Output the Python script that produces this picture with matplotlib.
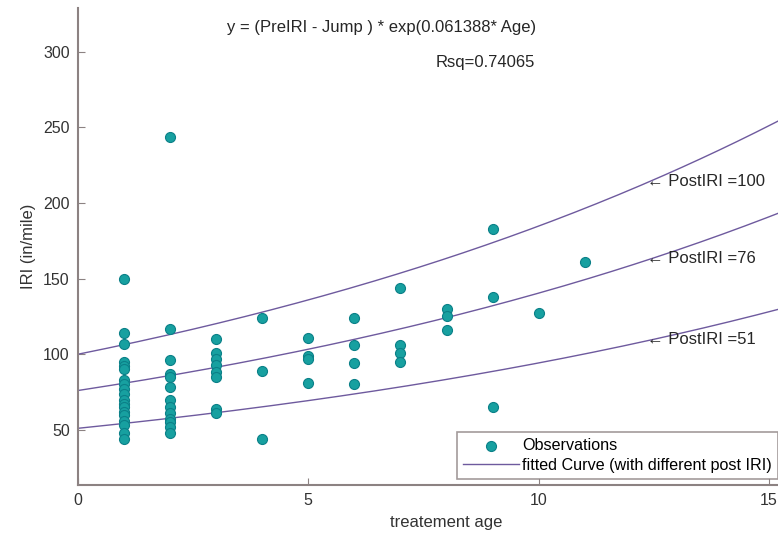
import numpy as np
import matplotlib
matplotlib.use('Agg')
import matplotlib.pyplot as plt

plt.rcParams['font.family'] = ['Liberation Sans', 'DejaVu Sans']

# observations: treatment age vs measured IRI
age = ([1] * 19 + [2] * 13 + [3] * 8 + [4] * 3 + [5] * 4 + [6] * 4
       + [7] * 4 + [8] * 3 + [9] * 3 + [10] + [11])
iri = [150, 114, 107, 95, 92, 90, 83, 80, 77, 74, 70, 67, 65, 62, 60, 56, 53, 48, 44,
       244, 117, 96, 87, 85, 78, 70, 65, 61, 57, 55, 52, 48,
       110, 101, 97, 93, 88, 85, 64, 61,
       124, 89, 44,
       111, 99, 97, 81,
       124, 106, 94, 80,
       144, 106, 101, 95,
       130, 125, 116,
       183, 138, 65,
       127,
       161]

rate = 0.061388
post_iri = [100, 76, 51]
label_age = 12.35

spine_col = '#8c8282'
teal = '#17a0a0'
curve_col = '#6e5a9e'
txt_col = '#262626'

fig = plt.figure(figsize=(7.78, 5.36), dpi=100)
ax = fig.add_axes([78 / 778, 51 / 536, (815 - 78) / 778, (485 - 8) / 536])

ax.scatter(age, iri, s=52, color=teal, edgecolors='#0b8088', linewidths=0.8,
           zorder=3, label='Observations')

t = np.linspace(0, 16, 200)
for i, p in enumerate(post_iri):
    ax.plot(t, p * np.exp(rate * t), color=curve_col, lw=1.0,
            label='fitted Curve (with different post IRI)' if i == 0 else None)
    ax.text(label_age, p * np.exp(rate * label_age) + 1, '\u2190 PostIRI =%d' % p,
            ha='left', va='center', fontsize=12, color=txt_col)

ax.text(6.58, 316, 'y = (PreIRI - Jump ) * exp(0.061388* Age)', ha='center',
        va='center', fontsize=12, color=txt_col)
ax.text(9.93, 293, 'Rsq=0.74065', ha='right', va='center', fontsize=12,
        color=txt_col)

ax.set_xlim(0, 16)
ax.set_ylim(13.5, 329)
ax.set_xticks([0, 5, 10, 15])
ax.set_yticks([50, 100, 150, 200, 250, 300])
ax.set_xlabel('treatement age', fontsize=12, color='#333333', labelpad=5)
ax.set_ylabel('IRI (in/mile)', fontsize=12, color='#333333', labelpad=5)

for side in ['top', 'right']:
    ax.spines[side].set_visible(False)
for side in ['left', 'bottom']:
    ax.spines[side].set_color(spine_col)
    ax.spines[side].set_linewidth(1.5)
ax.tick_params(direction='in', length=5, color=spine_col, labelsize=11.5,
               labelcolor='#333333', pad=6)

leg = ax.legend(loc='lower left', bbox_to_anchor=(0.514, 0.0126), fontsize=11.6,
                frameon=True, fancybox=False, edgecolor=spine_col,
                borderaxespad=0, borderpad=0.38, handlelength=3.5,
                handletextpad=0.19, labelspacing=0.28, scatterpoints=1)
leg.get_frame().set_linewidth(1.2)

fig.savefig('out.png', dpi=100)
